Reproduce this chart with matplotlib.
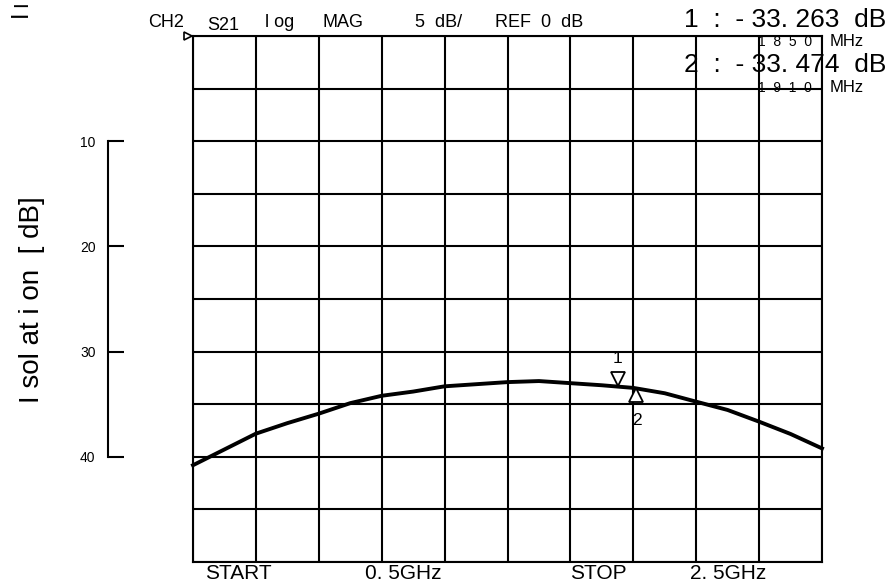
import matplotlib.pyplot as plt
import matplotlib.transforms as mtransforms

# trace (S21, 0.5 - 2.5 GHz)
freq_mhz = [500, 600, 700, 800, 900, 1000, 1100, 1200, 1300, 1400, 1500,
            1600, 1700, 1800, 1900, 2000, 2100, 2200, 2300, 2400, 2500]
isolation_db = [40.8, 39.3, 37.8, 36.8, 35.9, 34.9, 34.2, 33.8, 33.3, 33.1, 32.9,
                32.8, 33.0, 33.2, 33.45, 33.96, 34.76, 35.55, 36.66, 37.83, 39.2]

marker_freq = [1850, 1910]
marker_db = [33.263, 33.474]
marker_names = ["1", "2"]

y_ticks = [10, 20, 30, 40]
bottom_labels = ["START", "0. 5GHz", "STOP", "2. 5GHz"]

W, H = 890, 586
plt.rcParams['font.family'] = ['Liberation Sans', 'DejaVu Sans']

fig = plt.figure(figsize=(W / 100, H / 100), dpi=100)

def fx(px):
    return px / W

def fy(py):
    return 1 - py / H

# main screen grid: 10 x 10 divisions, 5 dB/div from REF 0 dB
left, right, top, bottom = 193, 822, 36, 562
ax = fig.add_axes([fx(left), fy(bottom), fx(right - left), fy(top) - fy(bottom)])
ax.set_xlim(freq_mhz[0], freq_mhz[-1])
ax.set_ylim(50, 0)
ax.set_xticks([freq_mhz[0] + i * 200 for i in range(11)])
ax.set_yticks([i * 5 for i in range(11)])
ax.grid(True, color="black", linewidth=1.5)
ax.tick_params(length=0, labelbottom=False, labelleft=False)
for s in ax.spines.values():
    s.set_linewidth(1.5)

ax.plot(freq_mhz, isolation_db, color="black", linewidth=2.8, clip_on=False, zorder=3)

# marker triangles (1 above the trace pointing down, 2 below pointing up)
for i in range(len(marker_freq)):
    if i == 0:
        off = mtransforms.ScaledTranslation(0, 4.8 / 72, fig.dpi_scale_trans)
        ax.plot(marker_freq[i], marker_db[i], marker="v", ms=9.5, mfc="white",
                mec="black", mew=1.3, transform=ax.transData + off, zorder=4)
        ax.annotate(marker_names[i], (marker_freq[i], marker_db[i]), xytext=(0, 20),
                    textcoords="offset points", ha="center", va="center", fontsize=12.5)
    else:
        off = mtransforms.ScaledTranslation(0, -4.8 / 72, fig.dpi_scale_trans)
        ax.plot(marker_freq[i], marker_db[i], marker="^", ms=9.5, mfc="white",
                mec="black", mew=1.3, transform=ax.transData + off, zorder=4)
        ax.annotate(marker_names[i], (marker_freq[i], marker_db[i]), xytext=(0, -23),
                    textcoords="offset points", ha="center", va="center", fontsize=12.5)

# reference position pointer at the top left corner
ref_off = mtransforms.ScaledTranslation(-3.5 / 72, 0, fig.dpi_scale_trans)
ax.plot(freq_mhz[0], 0, marker=">", ms=6, mfc="white", mec="black", mew=1.2,
        transform=ax.transData + ref_off, clip_on=False, zorder=5)

# separate scale on the left (same limits, no sharing so the grid keeps 5 dB steps)
ax2 = fig.add_axes([fx(108), fy(bottom), 0.0001, fy(top) - fy(bottom)])
ax2.set_ylim(50, 0)
ax2.set_xticks([])
for k in ["top", "right", "bottom"]:
    ax2.spines[k].set_visible(False)
ax2.spines["left"].set_bounds(y_ticks[0], y_ticks[-1])
ax2.spines["left"].set_linewidth(1.5)
ax2.set_yticks(y_ticks)
ax2.set_yticklabels([str(t) for t in y_ticks])
ax2.tick_params(axis="y", direction="in", length=11.5, width=1.5, pad=9, labelsize=10)
ax2.patch.set_visible(False)

fig.text(fx(32), fy(300), "I sol at i on  [ dB]", rotation=90, ha="center",
         va="center", fontsize=20)

# leftover text in the top left corner
fig.text(fx(21), fy(14), "I", rotation=90, ha="center", va="center", fontsize=17)
fig.text(fx(22), fy(4), "I", rotation=90, ha="center", va="center", fontsize=15)

# header line
hdr = [("CH2", 148, 27), ("S21", 207, 30), ("l og", 265, 27), ("MAG", 322, 27),
       ("5  dB/", 415, 27), ("REF  0  dB", 495, 27)]
for txt, x, y in hdr:
    fig.text(fx(x), fy(y), txt, ha="left", va="baseline", fontsize=13)

fig.text(fx(886), fy(27), "1  :  - 33. 263  dB", ha="right", va="baseline", fontsize=19)
fig.text(fx(886), fy(72), "2  :  - 33. 474  dB", ha="right", va="baseline", fontsize=19)
fig.text(fx(758), fy(46), "1  8  5  0", ha="left", va="baseline", fontsize=10)
fig.text(fx(830), fy(46), "MHz", ha="left", va="baseline", fontsize=12)
fig.text(fx(758), fy(92), "1  9  1  0", ha="left", va="baseline", fontsize=10)
fig.text(fx(830), fy(92), "MHz", ha="left", va="baseline", fontsize=12)

for txt, x in zip(bottom_labels, [205, 365, 570, 690]):
    fig.text(fx(x), fy(579), txt, ha="left", va="baseline", fontsize=15)

fig.savefig("out.png", dpi=100)
